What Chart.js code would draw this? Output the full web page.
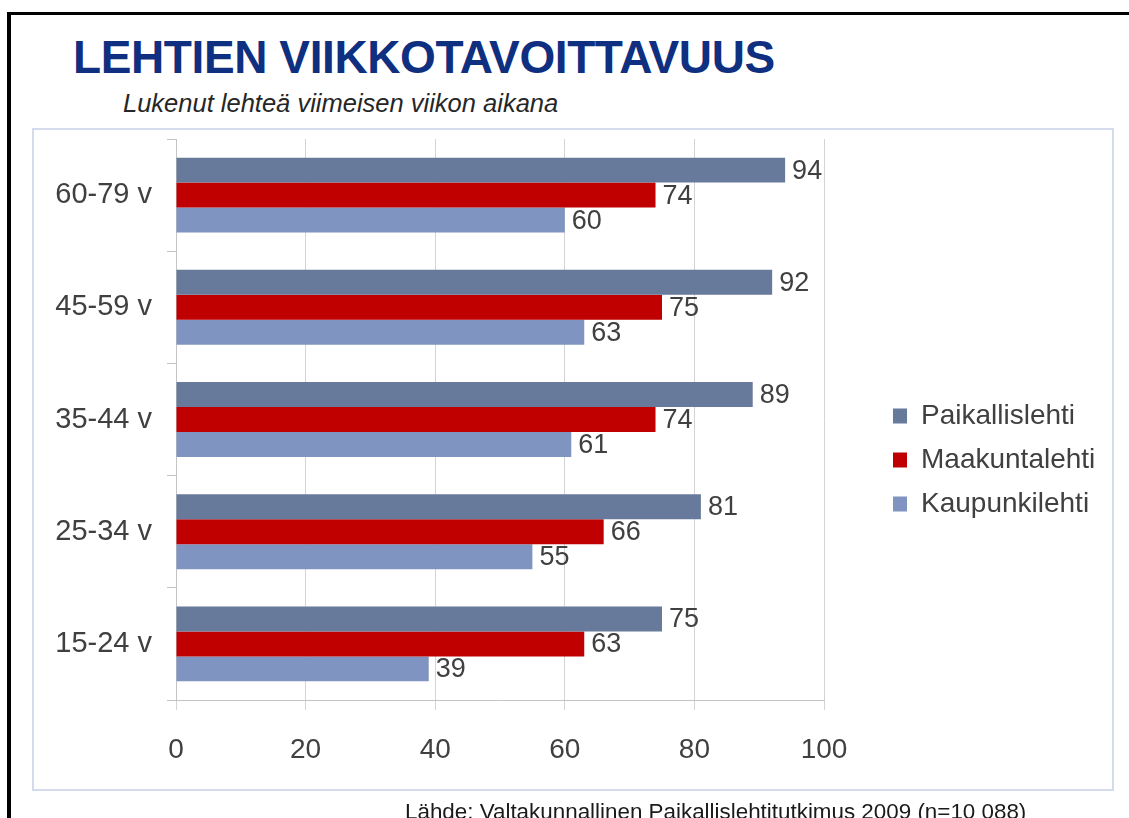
<!DOCTYPE html>
<html lang="fi">
<head>
<meta charset="utf-8">
<title>Lehtien viikkotavoittavuus</title>
<script src="https://cdn.jsdelivr.net/npm/chart.js@4.4.1/dist/chart.umd.min.js"></script>
<style>
  html, body {
    margin: 0;
    padding: 0;
    width: 1129px;
    height: 818px;
    overflow: hidden;
    background: #ffffff;
    font-family: "Liberation Sans", Arial, sans-serif;
  }
  .frame {
    position: absolute;
    left: 7px;
    top: 12px;
    width: 1140px;
    height: 820px;
    border-left: 4px solid #000;
    border-top: 3px solid #000;
  }
  .chartBox {
    position: absolute;
    left: 32px;
    top: 128px;
    width: 1078px;
    height: 659px;
    border: 2px solid #d3dbec;
  }
  #title {
    position: absolute;
    left: 73px;
    top: 34px;
    font-size: 46px;
    line-height: 46px;
    font-weight: bold;
    letter-spacing: -0.4px;
    color: #0f2f80;
    white-space: nowrap;
  }
  #subtitle {
    position: absolute;
    left: 123px;
    top: 91px;
    font-size: 25.5px;
    line-height: 25px;
    font-style: italic;
    color: #262626;
    white-space: nowrap;
  }
  #source {
    position: absolute;
    left: 405px;
    top: 801px;
    font-size: 22.4px;
    line-height: 22px;
    color: #1a1a1a;
    white-space: nowrap;
  }
  #chart {
    position: absolute;
    left: 0;
    top: 0;
  }
</style>
</head>
<body>
<div class="frame"></div>
<div class="chartBox"></div>
<div id="title">LEHTIEN VIIKKOTAVOITTAVUUS</div>
<div id="subtitle">Lukenut lehteä viimeisen viikon aikana</div>
<canvas id="chart" width="1129" height="818"></canvas>
<div id="source">Lähde: Valtakunnallinen Paikallislehtitutkimus 2009 (n=10 088)</div>

<script>
// Age groups, top to bottom
const categories = ['60-79 v', '45-59 v', '35-44 v', '25-34 v', '15-24 v'];

// Weekly reach (%) per paper type
const paikallislehti = [94, 92, 89, 81, 75];
const maakuntalehti = [74, 75, 74, 66, 63];
const kaupunkilehti = [60, 63, 61, 55, 39];

const seriesNames = ['Paikallislehti', 'Maakuntalehti', 'Kaupunkilehti'];
const seriesColors = ['#677a9b', '#c00000', '#7f94c0'];

const xMin = 0;
const xMax = 100;
const xStep = 20;

const textColor = '#404040';
const fontFamily = '"Liberation Sans", Arial, sans-serif';

// Value labels at the end of each bar
const valueLabels = {
  id: 'valueLabels',
  afterDatasetsDraw(chart) {
    const ctx = chart.ctx;
    ctx.save();
    ctx.font = '27px ' + fontFamily;
    ctx.fillStyle = textColor;
    ctx.textAlign = 'left';
    ctx.textBaseline = 'middle';
    chart.data.datasets.forEach((ds, i) => {
      const meta = chart.getDatasetMeta(i);
      meta.data.forEach((bar, j) => {
        ctx.fillText(String(ds.data[j]), bar.x + 7, bar.y + 1);
      });
    });
    ctx.restore();
  }
};

// Move the legend to the right side of the box, like in the original
const legendPlacement = {
  id: 'legendPlacement',
  afterLayout(chart) {
    const legend = chart.legend;
    if (!legend) return;
    const w = legend.width;
    const h = legend.height;
    legend.left = 877;
    legend.top = 386;
    legend.right = legend.left + w;
    legend.bottom = legend.top + h;
  }
};

const datasets = [paikallislehti, maakuntalehti, kaupunkilehti].map((values, i) => ({
  label: seriesNames[i],
  data: values,
  backgroundColor: seriesColors[i],
  borderWidth: 0,
  barPercentage: 1,
  categoryPercentage: 0.668
}));

const ctx = document.getElementById('chart').getContext('2d');
new Chart(ctx, {
  type: 'bar',
  data: {
    labels: categories,
    datasets: datasets
  },
  options: {
    indexAxis: 'y',
    responsive: false,
    animation: false,
    devicePixelRatio: 1,
    layout: {
      padding: { top: 139, right: 305, bottom: 0, left: 0 }
    },
    plugins: {
      title: { display: false },
      tooltip: { enabled: false },
      legend: {
        display: true,
        position: 'chartArea',
        align: 'start',
        labels: {
          boxWidth: 14,
          boxHeight: 15,
          padding: 16,
          color: textColor,
          font: { family: fontFamily, size: 28 }
        }
      }
    },
    scales: {
      x: {
        type: 'linear',
        min: xMin,
        max: xMax,
        ticks: {
          stepSize: xStep,
          color: textColor,
          padding: 23,
          font: { family: fontFamily, size: 28 }
        },
        grid: {
          color: '#d4d4d4',
          lineWidth: 1,
          tickLength: 10,
          drawTicks: true
        },
        border: { color: '#c4c4c4', width: 1 },
        afterFit(scale) {
          scale.height = 118;
        }
      },
      y: {
        type: 'category',
        ticks: {
          color: textColor,
          padding: 15,
          font: { family: fontFamily, size: 29 }
        },
        grid: {
          offset: true,
          drawOnChartArea: false,
          color: '#c4c4c4',
          tickLength: 9
        },
        border: { color: '#c4c4c4', width: 1 },
        afterFit(scale) {
          scale.width = 176;
        }
      }
    }
  },
  plugins: [valueLabels, legendPlacement]
});
</script>
</body>
</html>
